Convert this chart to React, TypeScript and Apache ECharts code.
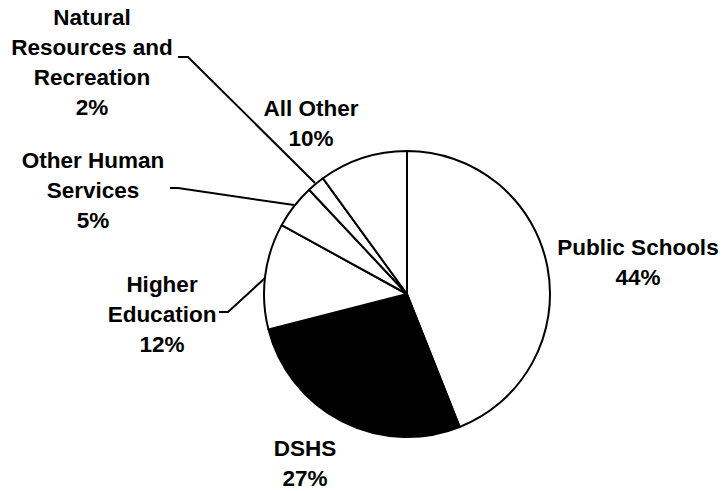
import React, { useEffect, useRef } from "react";
import * as echarts from "echarts";

const categories = [
  "Public Schools",
  "DSHS",
  "Higher Education",
  "Other Human Services",
  "Natural Resources and Recreation",
  "All Other",
];
const labelTexts = [
  "Public Schools",
  "DSHS",
  "Higher\nEducation",
  "Other Human\nServices",
  "Natural\nResources and\nRecreation",
  "All Other",
];
const shares = [44, 27, 12, 5, 2, 10];
const fills = ["#ffffff", "#000000", "#ffffff", "#ffffff", "#ffffff", "#ffffff"];

// label block centres and leader-line routes (layout, not data)
const labelCenters: number[][] = [
  [638, 262],
  [305, 463],
  [162, 314],
  [93, 190],
  [92, 62],
  [311, 123],
];
const labelLines: (number[][] | null)[] = [
  null,
  null,
  [[265, 278], [228, 312], [219, 312]],
  [[294, 205], [178, 188], [170, 188]],
  [[315, 183], [188, 57], [178, 57]],
  null,
];

export default function App() {
  const ref = useRef<HTMLDivElement>(null);
  useEffect(() => {
    if (!ref.current) return;
    const chart = echarts.init(ref.current, undefined, { renderer: "svg" });
    chart.setOption({
      animation: false,
      backgroundColor: "#ffffff",
      series: [
        {
          type: "pie",
          center: [407, 294],
          radius: 143,
          startAngle: 90,
          clockwise: true,
          silent: true,
          emphasis: { disabled: true },
          itemStyle: { borderColor: "#000000", borderWidth: 2 },
          label: {
            show: true,
            color: "#000000",
            fontFamily: "Liberation Sans, Arial, sans-serif",
            fontWeight: "bold",
            fontSize: 22.5,
            lineHeight: 30,
            align: "center",
            overflow: "none",
            formatter: (p: any) => `${labelTexts[p.dataIndex]}\n${p.value}%`,
          },
          labelLine: {
            show: true,
            lineStyle: { color: "#000000", width: 2 },
          },
          labelLayout: (p: any) => {
            const i = p.dataIndex;
            const c = labelCenters[i];
            const res: any = {
              x: c[0],
              y: c[1],
              align: "center",
              verticalAlign: "middle",
              hideOverlap: false,
            };
            if (labelLines[i]) res.labelLinePoints = labelLines[i];
            return res;
          },
          data: categories.map((name, i) => ({
            name,
            value: shares[i],
            itemStyle: { color: fills[i] },
            labelLine: { show: !!labelLines[i] },
          })),
        },
      ],
    });
    return () => chart.dispose();
  }, []);
  return (
    <div
      ref={ref}
      style={{ position: "absolute", left: 0, top: 0, width: 723, height: 491 }}
    />
  );
}
